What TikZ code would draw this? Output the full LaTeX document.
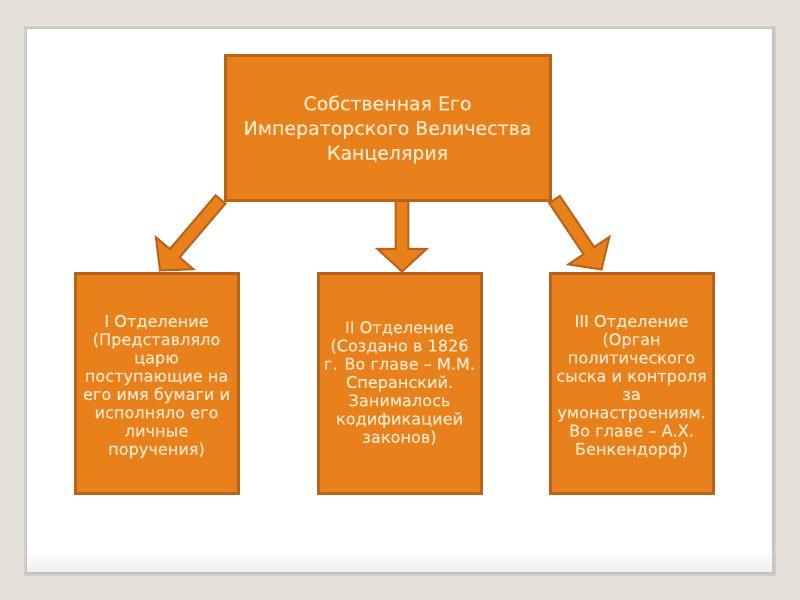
\documentclass[tikz,border=0pt]{standalone}
\usepackage{fontspec}
\setmainfont[FakeBold=0.6]{DejaVu Sans}
\usetikzlibrary{calc}
\definecolor{bgc}{HTML}{E6E1D9}
\definecolor{shad}{HTML}{C4C1BA}
\definecolor{org}{HTML}{E8801C}
\definecolor{bord}{HTML}{B9621A}
\definecolor{txt}{HTML}{FCE6C8}
\newcommand\blockarr[2]{%
  \path[arrowbody]
    ($(#1)!4.8pt!90:(#2)$) --
    ($($(#2)!17pt!(#1)$)!4.8pt!90:(#2)$) --
    ($($(#2)!17pt!(#1)$)!18.5pt!90:(#2)$) --
    (#2) --
    ($($(#2)!17pt!(#1)$)!18.5pt!-90:(#2)$) --
    ($($(#2)!17pt!(#1)$)!4.8pt!-90:(#2)$) --
    ($(#1)!4.8pt!-90:(#2)$) -- cycle;}
\begin{document}
\begin{tikzpicture}[x=0.75pt,y=-0.75pt,
  arrowbody/.style={fill=org,draw=bord,line width=1.5pt,line join=miter},
  topbox/.style={draw=bord,fill=org,line width=2.25pt,text=txt,
    minimum width=325*0.75pt,minimum height=145*0.75pt,align=center,
    font=\fontsize{14.2}{18.5}\selectfont,inner sep=0pt},
  subbox/.style={draw=bord,fill=org,line width=2.25pt,text=txt,
    minimum width=163*0.75pt,minimum height=220*0.75pt,align=center,
    font=\fontsize{12.1}{13.7}\selectfont,inner sep=0pt},
  label/.style={text=txt,align=center,inner sep=0pt}]
\useasboundingbox (0,0) rectangle (800,600);
\fill[bgc] (0,0) rectangle (800,600);
% slide with shadow
\fill[shad!60!bgc] (24,26) rectangle (776,576);
\fill[shad] (25.5,27.5) rectangle (774,573.5);
\fill[white] (27,29) rectangle (772,571);
\shade[top color=white,bottom color=black!6] (27,550) rectangle (772,571);
% node frames (positions)
\path (387.5,127.5) node[topbox,draw=none,fill=none] (top) {};
\path (156.5,383) node[subbox,draw=none,fill=none] (L) {};
\path (399.5,383) node[subbox,draw=none,fill=none] (M) {};
\path (631.5,383) node[subbox,draw=none,fill=none] (R) {};
\coordinate (la) at ($(top.south west)+(-3,-2)$);
\coordinate (ma) at ($(top.south)+(14.5,-2)$);
\coordinate (ra) at ($(top.south east)+(3,-2)$);
\coordinate (lb) at ($(L.north)+(3.5,-1)$);
\coordinate (mb) at ($(M.north)+(2.5,0)$);
\coordinate (rb) at ($(R.north west)+(53,-2)$);
% arrows
\blockarr{la}{lb}
\blockarr{ma}{mb}
\blockarr{ra}{rb}
% boxes
\node[topbox] (topbox) at (top) {};
\node[subbox] (Lbox) at (L) {};
\node[subbox] (Mbox) at (M) {};
\node[subbox] (Rbox) at (R) {};
% texts
\node[label,font=\fontsize{14.2}{18.5}\selectfont] (toptext) at ($(top)+(0,2)$) {Собственная Его\\Императорского Величества\\Канцелярия};
\node[label,font=\fontsize{12.1}{13.7}\selectfont] (Ltext) at ($(L)+(0,3.5)$) {I Отделение\\(Представляло\\царю\\поступающие на\\его имя бумаги и\\исполняло его\\личные\\поручения)};
\node[label,font=\fontsize{12.1}{13.7}\selectfont] (Mtext) at ($(M)+(0,0)$) {II Отделение\\(Создано в 1826\\г. Во главе – М.М.\\Сперанский.\\Занималось\\кодификацией\\законов)};
\node[label,font=\fontsize{12.1}{13.7}\selectfont] (Rtext) at ($(R)+(0,3.5)$) {III Отделение\\(Орган\\политического\\сыска и контроля\\за\\умонастроениям.\\Во главе – А.Х.\\Бенкендорф)};
\end{tikzpicture}
\end{document}
